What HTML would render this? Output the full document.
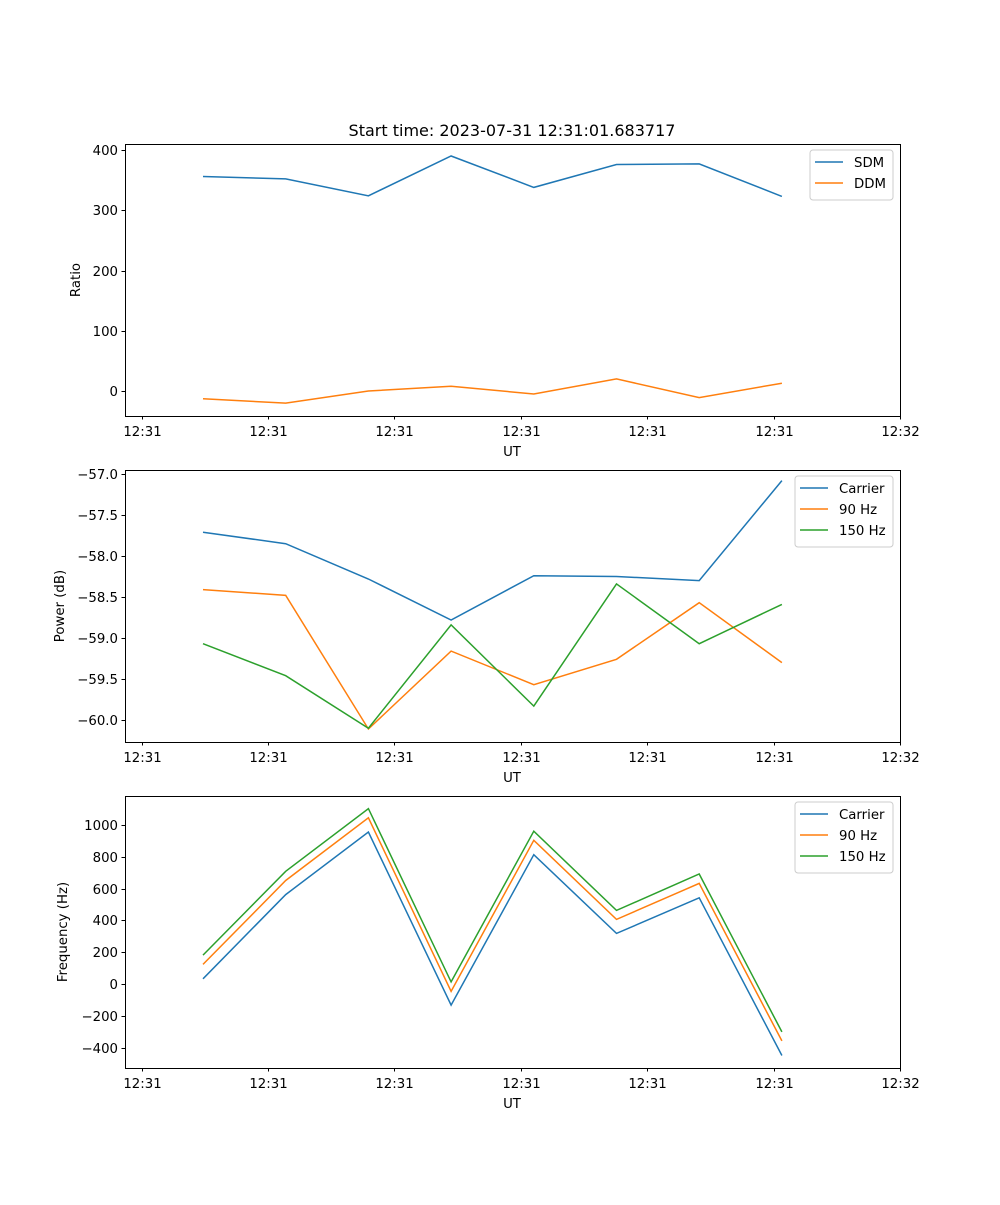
<!DOCTYPE html>
<html><head><meta charset="utf-8"><style>
body{margin:0;background:#fff}
svg text{font-family:"DejaVu Sans","Liberation Sans",sans-serif;fill:#000}
</style></head><body>
<svg id="fig" width="1000" height="1200" xmlns="http://www.w3.org/2000/svg">
<rect width="1000" height="1200" fill="#fff"/>
<text x="512" y="136" text-anchor="middle" font-size="16">Start time: 2023-07-31 12:31:01.683717</text>
</svg>
<script>
const xTickLabels = ["12:31","12:31","12:31","12:31","12:31","12:31","12:32"];
const sdm = [356, 352, 324, 390, 338, 376, 377, 323];
const ddm = [-13, -20, 0, 8, -5, 20, -11, 13];
const powCarrier = [-57.71, -57.85, -58.28, -58.78, -58.24, -58.25, -58.30, -57.08];
const pow90 = [-58.41, -58.48, -60.11, -59.16, -59.57, -59.26, -58.57, -59.30];
const pow150 = [-59.07, -59.46, -60.10, -58.84, -59.83, -58.34, -59.07, -58.59];
const freqCarrier = [33, 562, 956, -133, 813, 318, 542, -450];
const freq90 = [123, 651, 1045, -46, 904, 406, 633, -358];
const freq150 = [182, 709, 1103, 13, 961, 463, 692, -301];
const ticks1 = [0, 100, 200, 300, 400];
const ticks2 = [-60.0, -59.5, -59.0, -58.5, -58.0, -57.5, -57.0];
const ticks3 = [-400, -200, 0, 200, 400, 600, 800, 1000];

const NS = "http://www.w3.org/2000/svg";
const svg = document.getElementById('fig');
const C = ['#1f77b4', '#ff7f0e', '#2ca02c'];
const L = 125, R = 900;
function xPos(i){ return 203 + i * 82.7; }
function xTick(j){ return 141.5 + j * 126.4; }
function mk(tag, attrs, parent){ const e = document.createElementNS(NS, tag); for (const k in attrs) e.setAttribute(k, attrs[k]); (parent||svg).appendChild(e); return e; }

function panel(p){
  const g = mk('g', {});
  
  
  const yPos = v => p.y0 + (v - p.v0) * (p.y1 - p.y0) / (p.v1 - p.v0);
  p.series.forEach((s, si) => {
    const pts = s.data.map((v, i) => xPos(i).toFixed(1) + ',' + yPos(v).toFixed(1)).join(' ');
    const pl = mk('polyline', {points: pts, fill: 'none', stroke: C[si], 'stroke-width': 1.5}, g);
    
    
  });
  const fr = mk('rect', {x: L + 0.5, y: p.top + 0.5, width: R - L, height: p.bot - p.top, fill: 'none', stroke: '#000', 'stroke-width': 1}, g);
  
  
  p.ticks.forEach(t => {
    const y = Math.round(yPos(t)) + 0.5;
    mk('line', {x1: L - 3.5, x2: L, y1: y, y2: y, stroke: '#000', 'stroke-width': 1}, g);
    const tx = mk('text', {x: L - 7, y: y + 4.5, 'text-anchor': 'end', 'font-size': 13.3}, g);
    tx.textContent = p.fmt(t);
    
    
  });
  xTickLabels.forEach((lab, j) => {
    const x = Math.round(xTick(j)) + 0.5;
    mk('line', {x1: x, x2: x, y1: p.bot, y2: p.bot + 3.5, stroke: '#000', 'stroke-width': 1}, g);
    const tx = mk('text', {x: x, y: p.bot + 20, 'text-anchor': 'middle', 'font-size': 13.3}, g);
    tx.textContent = lab;
    
    
  });
  const xl = mk('text', {x: 512, y: p.bot + 40, 'text-anchor': 'middle', 'font-size': 13.3}, g);
  xl.textContent = 'UT';
  
  
  const cy = (p.top + p.bot) / 2;
  const yl = mk('text', {x: p.ylx, y: cy, 'text-anchor': 'middle', 'font-size': 13.3, transform: 'rotate(-90 ' + p.ylx + ' ' + cy + ')'}, g);
  yl.textContent = p.ylabel;
  
  
  const lg = mk('g', {}, g);
  
  
  const n = p.series.length;
  mk('rect', {x: p.lx, y: p.top + 6, width: 893 - p.lx, height: 8 + n * 21, rx: 3, fill: '#fff', stroke: '#ccc', 'stroke-width': 1}, lg);
  p.series.forEach((s, si) => {
    const yy = p.top + 18 + si * 21;
    mk('line', {x1: p.lx + 5, x2: p.lx + 33, y1: yy, y2: yy, stroke: C[si], 'stroke-width': 1.5}, lg);
    const t = mk('text', {x: p.lx + 44, y: yy + 5, 'font-size': 13.3}, lg);
    t.textContent = s.label;
    
    
  });
}

panel({name: 'ratio-panel', top: 144, bot: 416, v0: 400, y0: 150, v1: 0, y1: 391, ticks: ticks1, fmt: t => String(t),
  ylabel: 'Ratio', ylx: 80, lx: 810,
  series: [{key: 'sdm', label: 'SDM', data: sdm}, {key: 'ddm', label: 'DDM', data: ddm}]});
panel({name: 'power-panel', top: 470, bot: 742, v0: -57, y0: 474, v1: -60, y1: 720, ticks: ticks2, fmt: t => '\u2212' + Math.abs(t).toFixed(1),
  ylabel: 'Power (dB)', ylx: 64, lx: 795,
  series: [{key: 'carrier', label: 'Carrier', data: powCarrier}, {key: '90hz', label: '90 Hz', data: pow90}, {key: '150hz', label: '150 Hz', data: pow150}]});
panel({name: 'frequency-panel', top: 796, bot: 1068, v0: 1000, y0: 825, v1: 0, y1: 984, ticks: ticks3, fmt: t => t < 0 ? '\u2212' + Math.abs(t) : String(t),
  ylabel: 'Frequency (Hz)', ylx: 67, lx: 795,
  series: [{key: 'carrier', label: 'Carrier', data: freqCarrier}, {key: '90hz', label: '90 Hz', data: freq90}, {key: '150hz', label: '150 Hz', data: freq150}]});
</script>
</body></html>
